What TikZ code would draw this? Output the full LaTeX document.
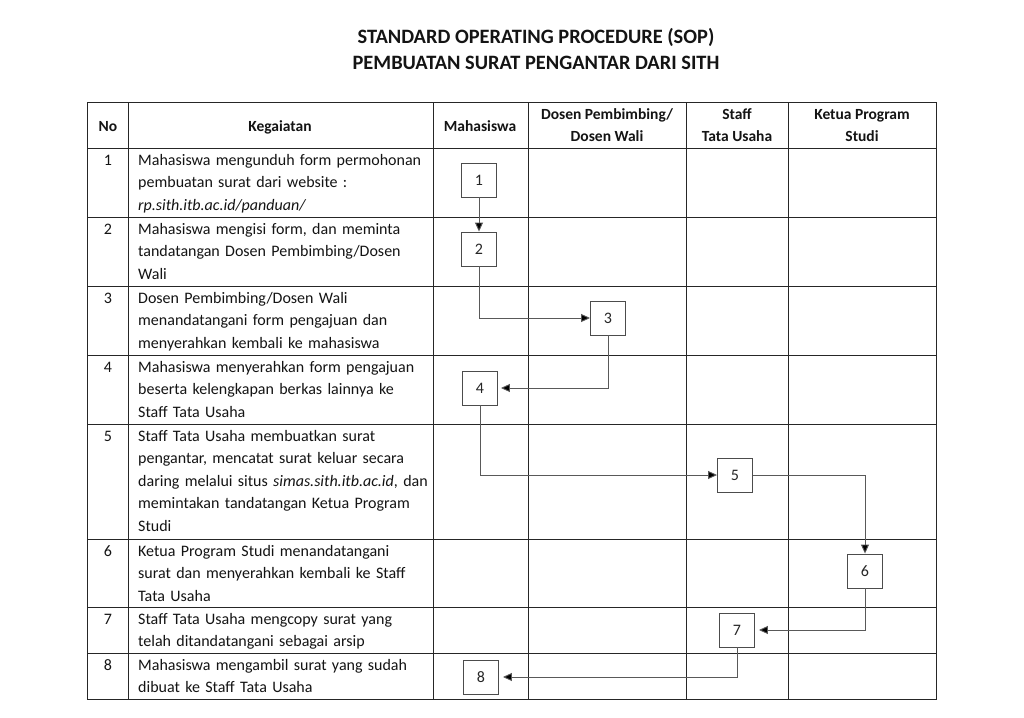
\documentclass[tikz,border=0pt]{standalone}
\usepackage{fontspec}
\setmainfont{Carlito}
\usetikzlibrary{arrows.meta}
\begin{document}
\begin{tikzpicture}[x=1pt,y=-1pt,
  grid/.style={line width=1pt,draw=black!85},
  cell/.style={anchor=base west,inner sep=0pt,text width=320pt,align=left,font=\fontsize{16}{22.6}\selectfont,text=black!92},
  num/.style={anchor=base,inner sep=0pt,font=\fontsize{16}{22.6}\selectfont,text=black!92},
  head/.style={anchor=base,inner sep=0pt,align=center,font=\bfseries\fontsize{15.5}{22}\selectfont,text=black!92},
  ttl/.style={anchor=base,inner sep=0pt,font=\bfseries\fontsize{20.4}{24}\selectfont,text=black!92},
  stepbox/.style={draw=black!70,line width=0.9pt,fill=white,minimum width=35pt,minimum height=34pt,inner sep=0pt,font=\fontsize{16}{20}\selectfont,text=black!85},
  flow/.style={draw=black!65,line width=0.9pt,-{Triangle[length=9pt,width=8pt,fill=black]}}
]
\useasboundingbox[fill=white] (0,0) rectangle (1024,717);
% title
\node[ttl] (t1) at (536,44) {STANDARD OPERATING PROCEDURE (SOP)};
\node[ttl] (t2) at (536,69) {PEMBUATAN SURAT PENGANTAR DARI SITH};
% table grid
\draw[grid] (87,102) rectangle (936,699);
\foreach \x in {128,433,528,686,788} \draw[grid] (\x,102) -- (\x,699);
\foreach \y in {148,217,286,355,424,539,607,653} \draw[grid] (87,\y) -- (936,\y);
% header
\node[head] (hno) at (108,131) {No};
\node[head] (hkeg) at (280,131) {Kegaiatan};
\node[head] (hmhs) at (480,131) {Mahasiswa};
\node[head] (hdos) at (607,141) {Dosen Pembimbing/\\Dosen Wali};
\node[head] (hsta) at (737,141) {Staff\\Tata Usaha};
\node[head] (hket) at (862,141) {Ketua Program\\Studi};
% numbers
\node[num] (n1) at (108,165) {1};
\node[num] (n2) at (108,234) {2};
\node[num] (n3) at (108,303) {3};
\node[num] (n4) at (108,372) {4};
\node[num] (n5) at (108,441) {5};
\node[num] (n6) at (108,556) {6};
\node[num] (n7) at (108,624) {7};
\node[num] (n8) at (108,670) {8};
% activities
\node[cell] (k1) at (138,165) {Mahasiswa mengunduh form permohonan\\pembuatan surat dari website :\\\textit{rp.sith.itb.ac.id/panduan/}};
\node[cell] (k2) at (138,234) {Mahasiswa mengisi form, dan meminta\\tandatangan Dosen Pembimbing/Dosen\\Wali};
\node[cell] (k3) at (138,303) {Dosen Pembimbing/Dosen Wali\\menandatangani form pengajuan dan\\menyerahkan kembali ke mahasiswa};
\node[cell] (k4) at (138,372) {Mahasiswa menyerahkan form pengajuan\\beserta kelengkapan berkas lainnya ke\\Staff Tata Usaha};
\node[cell] (k5) at (138,441) {Staff Tata Usaha membuatkan surat\\pengantar, mencatat surat keluar secara\\daring melalui situs \textit{simas.sith.itb.ac.id}, dan\\memintakan tandatangan Ketua Program\\Studi};
\node[cell] (k6) at (138,556) {Ketua Program Studi menandatangani\\surat dan menyerahkan kembali ke Staff\\Tata Usaha};
\node[cell] (k7) at (138,624) {Staff Tata Usaha mengcopy surat yang\\telah ditandatangani sebagai arsip};
\node[cell] (k8) at (138,670) {Mahasiswa mengambil surat yang sudah\\dibuat ke Staff Tata Usaha};
% flow boxes
\node[stepbox] (b1) at (479,180) {1};
\node[stepbox] (b2) at (479,249) {2};
\node[stepbox] (b3) at (608,318) {3};
\node[stepbox] (b4) at (480,388) {4};
\node[stepbox] (b5) at (735,475) {5};
\node[stepbox] (b6) at (865,571) {6};
\node[stepbox] (b7) at (737,630) {7};
\node[stepbox] (b8) at (481,677) {8};
% connectors
\draw[flow] (b1) -- (b2);
\draw[flow] (b2.south) |- (b3.west);
\draw[flow,shorten >=3pt] (b3.south) |- (b4.east);
\draw[flow] (b4.south) |- (b5.west);
\draw[flow] (b5.east) -| (b6.north);
\draw[flow,shorten >=4pt] (b6.south) |- (b7.east);
\draw[flow,shorten >=4pt] (b7.south) |- (b8.east);
\end{tikzpicture}
\end{document}
